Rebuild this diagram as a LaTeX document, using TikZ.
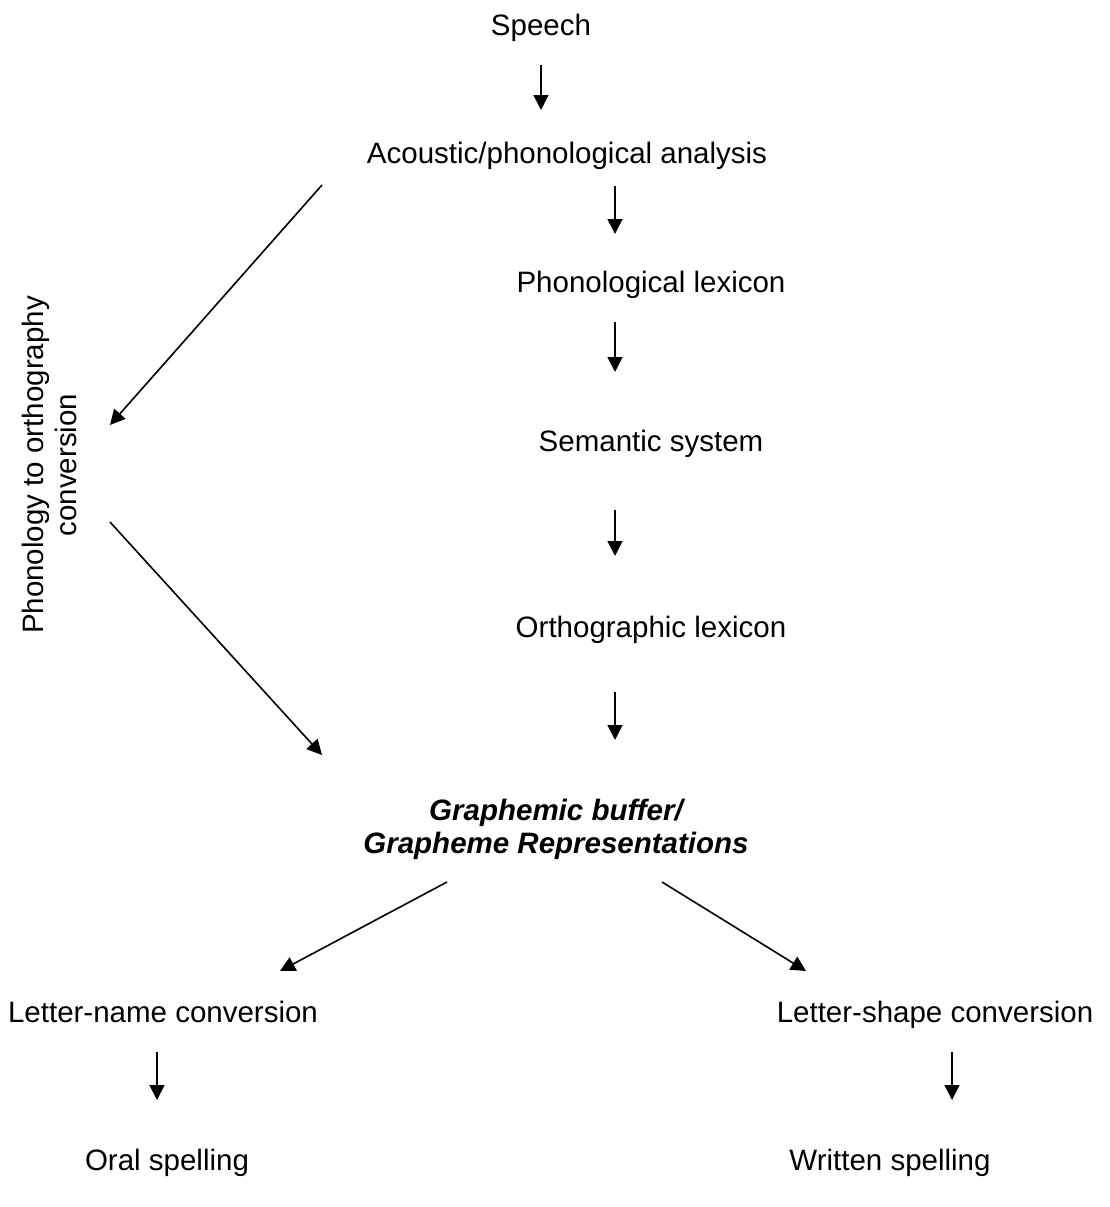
\documentclass[tikz,border=0pt]{standalone}
\usepackage{fontspec}
\setmainfont{Liberation Sans}
\usetikzlibrary{arrows.meta}
\begin{document}
\begin{tikzpicture}[x=1pt,y=1pt,
  lbl/.style={font=\fontsize{29.5}{33}\selectfont, inner sep=0pt, anchor=base},
  arr/.style={line width=1.6pt, -{Triangle[length=15pt,width=15pt]}}]
\useasboundingbox (0,0) rectangle (1110,-1207);
\node[lbl] (speech) at (541,-36) {Speech};
\node[lbl] (acoustic) at (567,-163) {Acoustic/phonological analysis};
\node[lbl] (phonlex) at (651,-292) {Phonological lexicon};
\node[lbl] (sem) at (651,-451) {Semantic system};
\node[lbl] (ortlex) at (651,-637) {Orthographic lexicon};
\node[font=\fontsize{29.5}{33}\selectfont\bfseries\itshape, inner sep=0pt, align=center] (buffer) at (556,-829) {Graphemic buffer/\\Grapheme Representations};
\node[lbl] (lname) at (163,-1022) {Letter-name conversion};
\node[lbl] (lshape) at (935,-1022) {Letter-shape conversion};
\node[lbl] (oral) at (167,-1170) {Oral spelling};
\node[lbl] (written) at (890,-1170) {Written spelling};
\node[font=\fontsize{29.5}{33}\selectfont, inner sep=0pt, align=center, rotate=90] (p2o) at (49,-465) {Phonology to orthography\\conversion};
% arrow end points
\coordinate (a1s) at (541,-65);  \coordinate (a1e) at (541,-110);
\coordinate (a2s) at (615,-186); \coordinate (a2e) at (615,-234);
\coordinate (a3s) at (615,-322); \coordinate (a3e) at (615,-372);
\coordinate (a4s) at (615,-510); \coordinate (a4e) at (615,-556);
\coordinate (a5s) at (615,-692); \coordinate (a5e) at (615,-740);
\coordinate (d1s) at (322,-185); \coordinate (d1e) at (110,-425);
\coordinate (d2s) at (110,-522); \coordinate (d2e) at (322,-755);
\coordinate (b1s) at (447,-882); \coordinate (b1e) at (280,-971);
\coordinate (b2s) at (662,-882); \coordinate (b2e) at (806,-971);
\coordinate (c1s) at (157,-1052); \coordinate (c1e) at (157,-1100);
\coordinate (c2s) at (952,-1052); \coordinate (c2e) at (952,-1100);
\draw[arr] (a1s) -- (a1e);
\draw[arr] (a2s) -- (a2e);
\draw[arr] (a3s) -- (a3e);
\draw[arr] (a4s) -- (a4e);
\draw[arr] (a5s) -- (a5e);
\draw[arr] (d1s) -- (d1e);
\draw[arr] (d2s) -- (d2e);
\draw[arr] (b1s) -- (b1e);
\draw[arr] (b2s) -- (b2e);
\draw[arr] (c1s) -- (c1e);
\draw[arr] (c2s) -- (c2e);
\end{tikzpicture}
\end{document}
